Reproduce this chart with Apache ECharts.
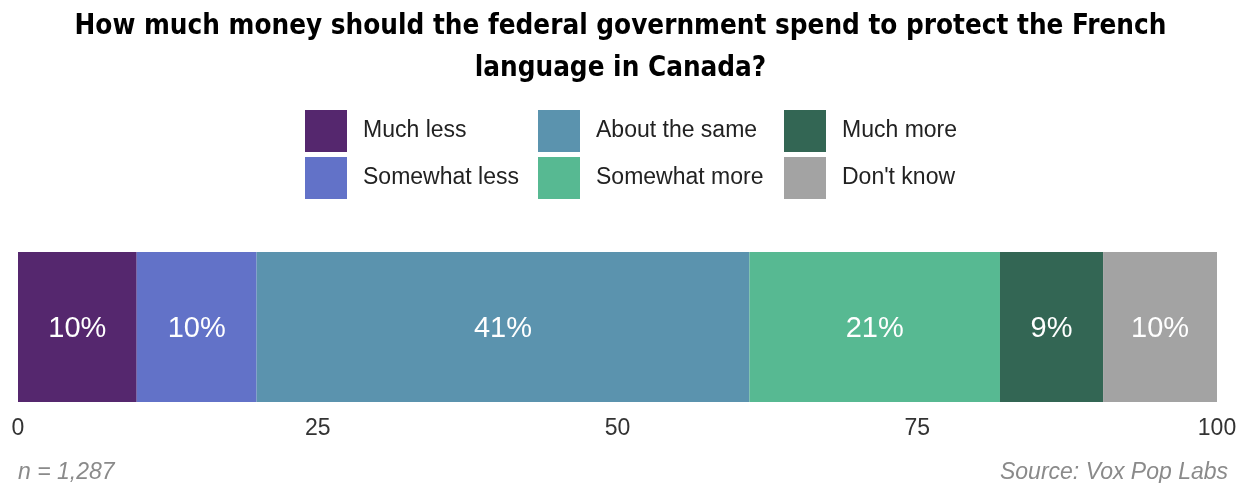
<!DOCTYPE html>
<html><head><meta charset="utf-8">
<script src="https://cdn.jsdelivr.net/npm/echarts@6/dist/echarts.min.js"></script>
<style>html,body{margin:0;padding:0;background:#fff}#c{width:1241px;height:483px}</style>
</head><body><div id="c"></div>
<script>
const categories = ["All"];
const seriesNames = ["Much less", "Somewhat less", "About the same", "Somewhat more", "Much more", "Don't know"];
const seriesValues = [9.9, 10.0, 41.1, 20.9, 8.6, 9.5];
const seriesLabels = ["10%", "10%", "41%", "21%", "9%", "10%"];
const colors = ["#55276e", "#6272c8", "#5b93ae", "#57b992", "#336654", "#a3a3a3"];
const tickValues = [0, 25, 50, 75, 100];

const chart = echarts.init(document.getElementById('c'));
const series = seriesNames.map((n, i) => ({
  name: n, type: 'bar', stack: 'all', barCategoryGap: 0, barWidth: '100%',
  data: [seriesValues[i]],
  itemStyle: { color: colors[i] },
  label: { show: true, position: 'inside', offset: [0, 2], color: '#fff', fontFamily: 'Liberation Sans', fontSize: 29,
    formatter: () => seriesLabels[i] },
  emphasis: { disabled: true }
}));
const legendBase = {
  orient: 'vertical', itemWidth: 42, itemHeight: 42, itemGap: 5, top: 105,
  icon: 'rect', selectedMode: false,
  textStyle: { fontFamily: 'Liberation Sans', fontSize: 23, color: '#222', padding: [4,0,0,11] }
};
chart.setOption({
  animation: false,
  title: {
    text: 'How much money should the federal government spend to protect the French\nlanguage in Canada?',
    left: 'center', top: 1,
    textStyle: { fontFamily: '"DejaVu Sans Condensed", Roboto', fontWeight: 'bold', fontSize: 27.6, lineHeight: 42, color: '#000' }
  },
  legend: [
    Object.assign({}, legendBase, { left: 300, data: [seriesNames[0], seriesNames[1]] }),
    Object.assign({}, legendBase, { left: 533, data: [seriesNames[2], seriesNames[3]] }),
    Object.assign({}, legendBase, { left: 779, data: [seriesNames[4], seriesNames[5]] })
  ],
  grid: { left: 18, right: 24, top: 252, height: 150 },
  xAxis: {
    type: 'value', min: 0, max: 100, interval: 25,
    axisLine: { show: false }, axisTick: { show: false }, splitLine: { show: false },
    axisLabel: { color: '#333', fontFamily: 'Liberation Sans', fontSize: 23, margin: 15,
      formatter: v => tickValues.includes(v) ? String(v) : '' }
  },
  yAxis: { type: 'category', data: categories, show: false },
  series: series,
  graphic: [
    { type: 'text', left: 18, top: 461, style: { text: 'n = 1,287', fontFamily: 'Liberation Sans', fontStyle: 'italic', fontSize: 23, fill: '#8a8a8a' } },
    { type: 'text', right: 13, top: 461, style: { text: 'Source: Vox Pop Labs', fontFamily: 'Liberation Sans', fontStyle: 'italic', fontSize: 23, fill: '#8a8a8a' } }
  ]
});
</script></body></html>
